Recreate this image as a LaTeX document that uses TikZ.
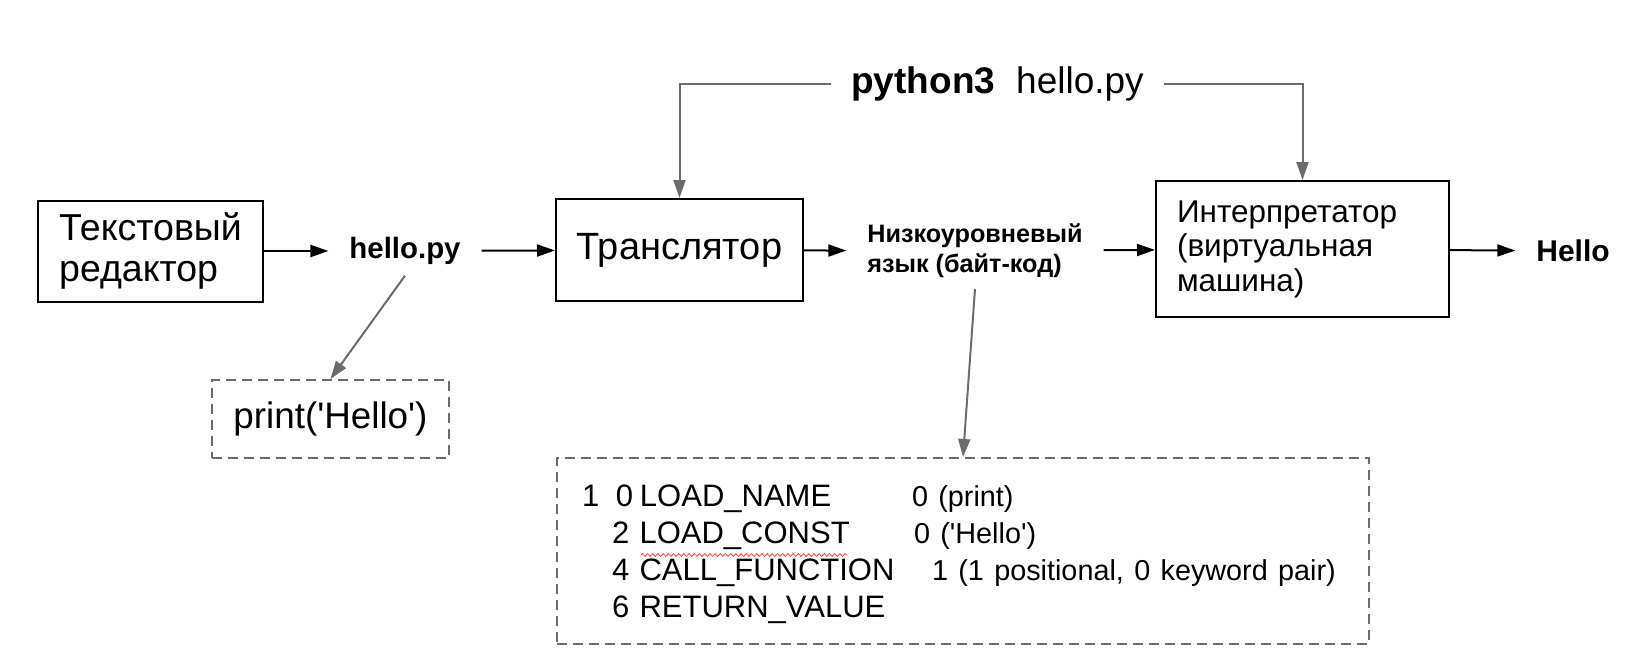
\documentclass[tikz,border=0pt]{standalone}
\usepackage{fontspec}
\setmainfont{Liberation Sans}
\usetikzlibrary{arrows.meta,decorations.pathmorphing}

\newcommand{\sq}{\textquotesingle}
\newcommand{\argf}{\fontsize{14.4}{18.5}\selectfont}

\tikzset{
  blk/.style={draw, line width=1pt},
  dbox/.style={draw=gray!85!black, line width=1pt, dash pattern=on 5pt off 3pt},
  lbl/.style={inner xsep=10pt, inner ysep=5pt},
  gline/.style={draw=gray!85!black, line width=1pt},
  squiggle/.style={red!75, line width=0.4pt, decorate,
    decoration={zigzag, amplitude=0.7pt, segment length=2.6pt}},
}

\begin{document}
\begin{tikzpicture}[x=0.5pt, y=-0.5pt, line width=1pt,
    >={Triangle[length=9pt,width=6pt]}]
  \useasboundingbox (0,0) rectangle (1629,664);

  % main row
  \node[blk, minimum width=112.5pt, minimum height=50.5pt, align=left,
        font=\fontsize{18.75}{20.5}\selectfont] (editor) at (150.5,251) {Текстовый\\редактор};
  \node[lbl, font=\fontsize{14.7}{16}\selectfont\bfseries] (src) at (405,251) {hello.py};
  \node[blk, minimum width=123.5pt, minimum height=51pt,
        font=\fontsize{19}{21}\selectfont] (trans) at (679.5,250) {Транслятор};
  \node[lbl, align=left, font=\fontsize{12.6}{15}\selectfont\bfseries] (low) at (975,251)
        {Низкоуровневый\\язык (байт-код)};
  \node[blk, text width=125.5pt, inner xsep=10.5pt, minimum height=68pt, align=left,
        font=\fontsize{15.75}{17.25}\selectfont] (interp) at (1302.5,249)
        {Интерпретатор\\(виртуальная\\машина)};
  \node[lbl, font=\fontsize{15}{18}\selectfont\bfseries] (out) at (1573,251) {Hello};

  % command line
  \node[lbl, inner xsep=9.5pt, font=\fontsize{18.5}{21}\selectfont] (cmd) at (997.5,84)
        {\textbf{python3}\hspace{10.5pt}hello.py};

  % dashed boxes
  \node[dbox, minimum width=118.5pt, minimum height=39pt,
        font=\fontsize{18.4}{21}\selectfont] (print) at (330.5,419) {print(\sq Hello\sq)};
  \node[dbox, text width=381pt, inner xsep=12.5pt, minimum height=93pt, align=left,
        font=\fontsize{15.5}{18.5}\selectfont] (code) at (963,551) {%
    \rule{0pt}{14.1pt}\makebox[17pt][l]{1}\makebox[12pt][l]{0}\makebox[136pt][l]{LOAD\_NAME}{\argf 0 (print)}\\
    \makebox[15pt][l]{}\makebox[151pt][l]{2 LOAD\_CONST}{\argf 0 (\sq Hello\sq)}\\
    \makebox[15pt][l]{}\makebox[160pt][l]{4 CALL\_FUNCTION}{\argf 1 (1 positional, 0 keyword pair)}\\
    \makebox[15pt][l]{}6 RETURN\_VALUE};
  \draw[squiggle] (641,555) -- (847,555);

  % arrows
  \draw[->] (editor) -- (src);
  \draw[->] (src) -- (trans);
  \draw[->] (trans) -- (low);
  \draw[->] (low) -- (interp);
  \draw[->] (interp) -- (out);
  \draw[gline, ->] (cmd.west) -| (trans.north);
  \draw[gline, ->] (cmd.east) -| (interp.north);
  \draw[gline, ->] (src.south) -- (print.north);
  \draw[gline, ->] (low.south) -- (code.north);
\end{tikzpicture}
\end{document}
